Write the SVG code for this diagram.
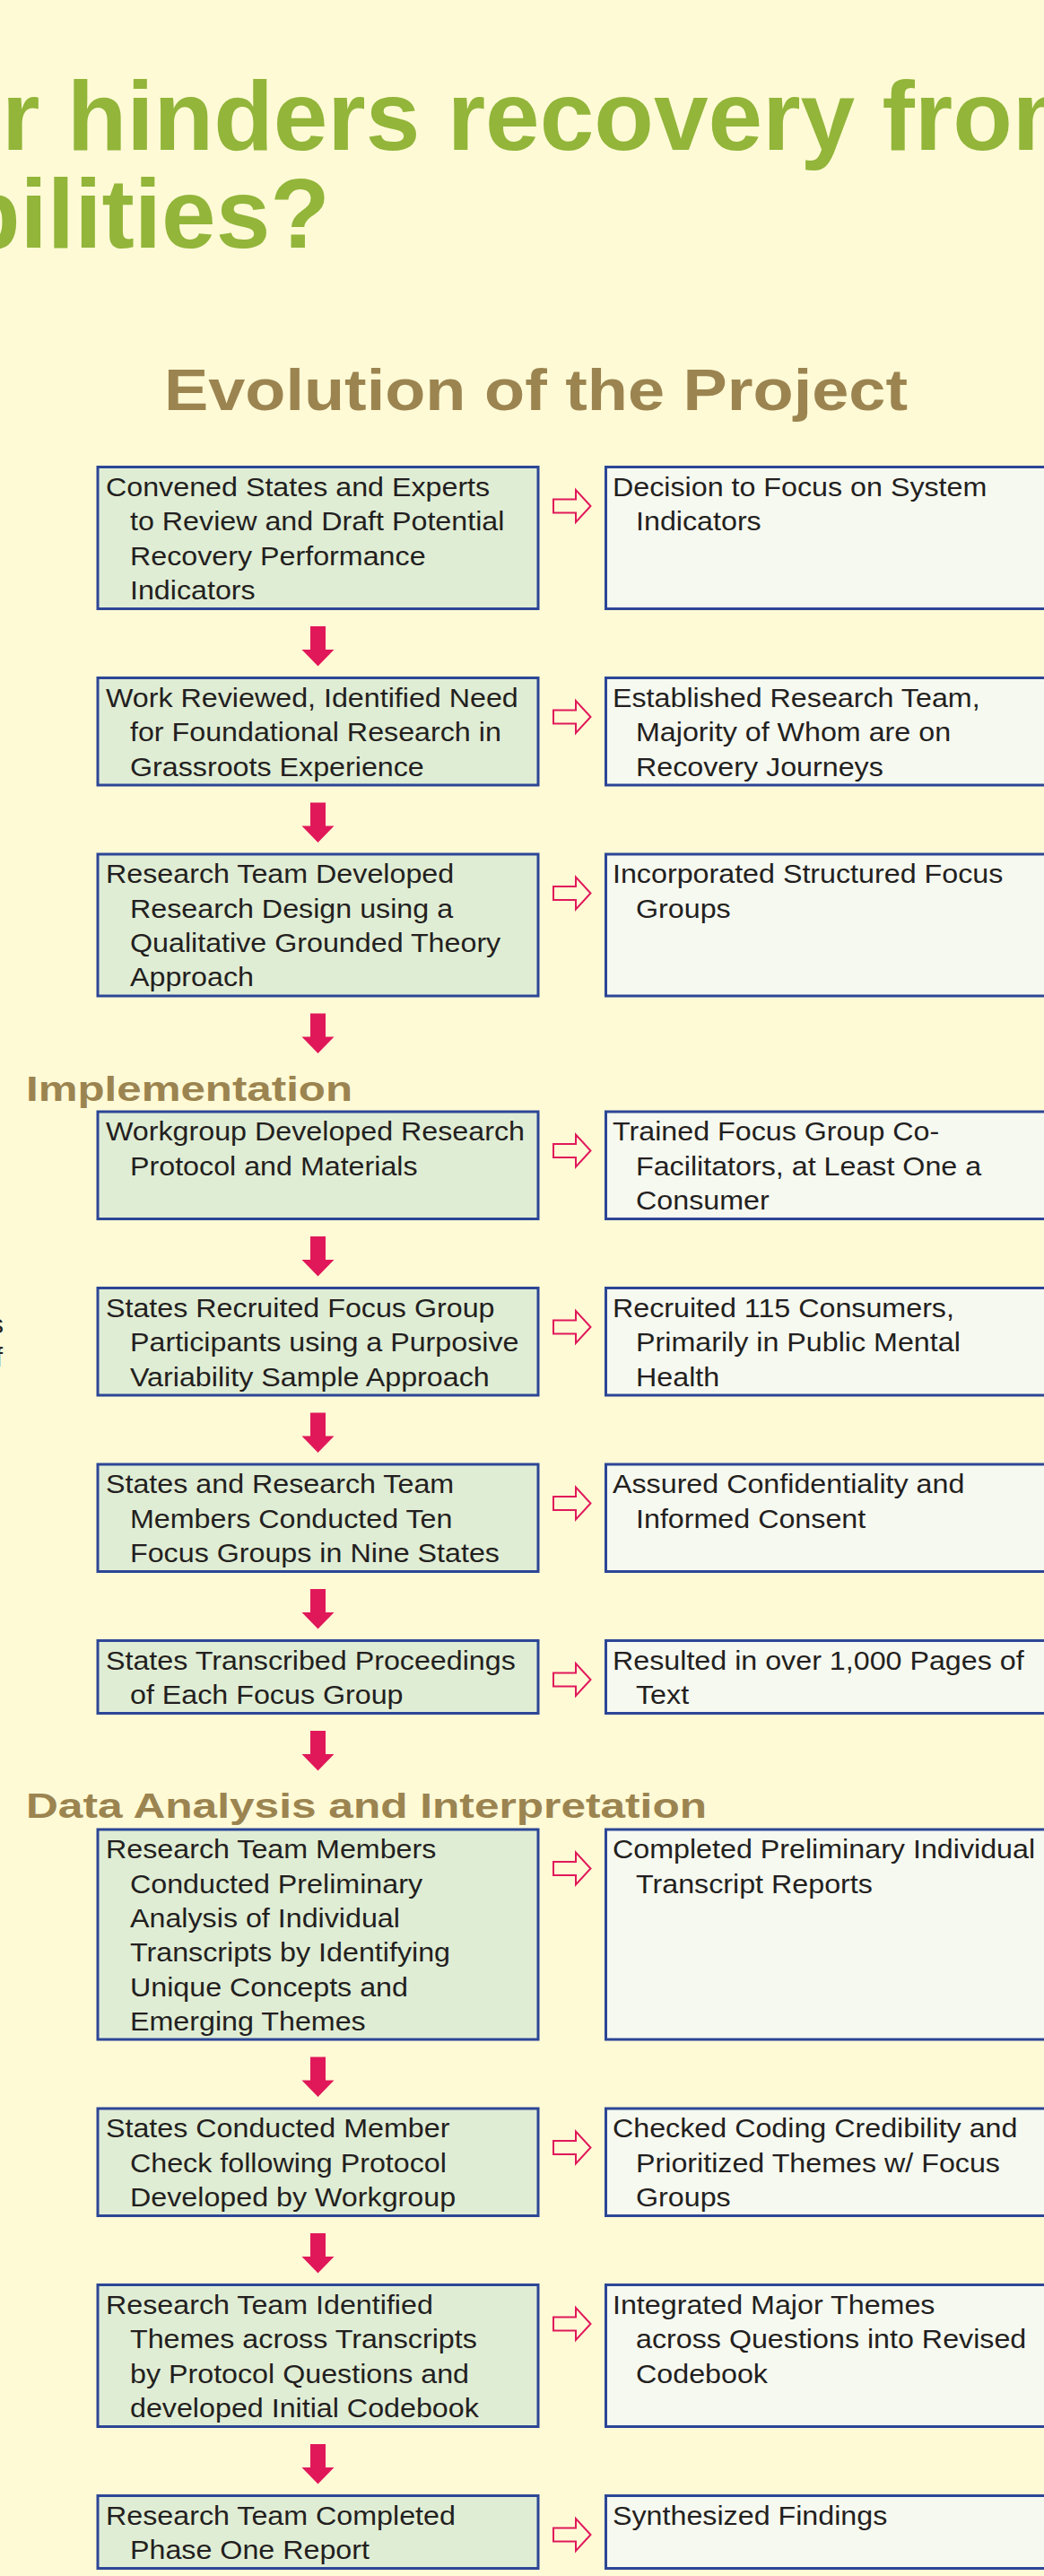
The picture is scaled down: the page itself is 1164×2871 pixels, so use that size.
<svg xmlns="http://www.w3.org/2000/svg" xmlns:xlink="http://www.w3.org/1999/xlink" width="1164" height="2871" viewBox="0 0 1164 2871">
<style>
.bg{fill:#fffad6}
.title{font-family:"Liberation Sans",Arial,sans-serif;font-weight:bold;font-size:109px;fill:#92b53a}
.head{font-family:"Liberation Sans",Arial,sans-serif;font-weight:bold;fill:#9b8450}
.lbox{fill:#e0edd5;stroke:#2c4696;stroke-width:3}
.rbox{fill:#f6f9f0;stroke:#2c4696;stroke-width:3}
.t{font-family:"Liberation Sans",Arial,sans-serif;font-size:30px;fill:#231f20}
.down{fill:#e0185a}
.hollow{fill:none;stroke:#e0185a;stroke-width:2;stroke-linejoin:miter}
</style>
<defs>
<polygon id="darrow" class="down" points="346,0 363,0 363,26 372.5,26 354.5,44.5 336.5,26 346,26"/>
<polygon id="harrow" class="hollow" points="617,-7.5 642,-7.5 642,-18 658.5,0 642,18 642,7.5 617,7.5"/>
</defs>
<rect class="bg" x="0" y="0" width="1164" height="2871"/>

<g id="title">
<text class="title" x="2" y="167">r hinders recovery from</text>
<text class="title" x="-44" y="276">bilities?</text>
</g>
<text class="head" x="183" y="457" font-size="64" textLength="829" lengthAdjust="spacingAndGlyphs">Evolution of the Project</text>
<text class="head" x="29" y="1227" font-size="38" textLength="364" lengthAdjust="spacingAndGlyphs">Implementation</text>
<text class="head" x="29" y="2026" font-size="38" textLength="759" lengthAdjust="spacingAndGlyphs">Data Analysis and Interpretation</text>

<g id="side-fragments" class="t">
<text x="4" y="1485.5" text-anchor="end">s</text>
<text x="3" y="1523" text-anchor="end">f</text>
</g>

<g id="connectors">
<use href="#darrow" xlink:href="#darrow" y="698"/>
<use href="#darrow" xlink:href="#darrow" y="894.5"/>
<use href="#darrow" xlink:href="#darrow" y="1129.5"/>
<use href="#darrow" xlink:href="#darrow" y="1378"/>
<use href="#darrow" xlink:href="#darrow" y="1574.5"/>
<use href="#darrow" xlink:href="#darrow" y="1771"/>
<use href="#darrow" xlink:href="#darrow" y="1929"/>
<use href="#darrow" xlink:href="#darrow" y="2292.5"/>
<use href="#darrow" xlink:href="#darrow" y="2489"/>
<use href="#darrow" xlink:href="#darrow" y="2724"/>
<use href="#harrow" xlink:href="#harrow" y="564"/>
<use href="#harrow" xlink:href="#harrow" y="799"/>
<use href="#harrow" xlink:href="#harrow" y="995.5"/>
<use href="#harrow" xlink:href="#harrow" y="1282.5"/>
<use href="#harrow" xlink:href="#harrow" y="1479"/>
<use href="#harrow" xlink:href="#harrow" y="1675.5"/>
<use href="#harrow" xlink:href="#harrow" y="1872"/>
<use href="#harrow" xlink:href="#harrow" y="2082.5"/>
<use href="#harrow" xlink:href="#harrow" y="2393.5"/>
<use href="#harrow" xlink:href="#harrow" y="2590"/>
<use href="#harrow" xlink:href="#harrow" y="2825"/>
</g>

<!-- Row 1 -->
<g id="step1">
<rect class="lbox" x="109" y="520.5" width="491" height="158"/>
<g class="t" transform="translate(118 0) scale(1.075 1) translate(-118 0)">
<text x="118" y="553">Convened States and Experts</text>
<text x="143.1" y="591.3">to Review and Draft Potential</text>
<text x="143.1" y="629.6">Recovery Performance</text>
<text x="143.1" y="667.9">Indicators</text>
</g>
</g>
<g id="result1">
<rect class="rbox" x="675.5" y="520.5" width="600" height="158"/>
<g class="t" transform="translate(683 0) scale(1.075 1) translate(-683 0)">
<text x="683" y="553">Decision to Focus on System</text>
<text x="707.2" y="591.3">Indicators</text>
</g>
</g>

<!-- Row 2 -->
<g id="step2">
<rect class="lbox" x="109" y="755.5" width="491" height="119.5"/>
<g class="t" transform="translate(118 0) scale(1.075 1) translate(-118 0)">
<text x="118" y="788">Work Reviewed, Identified Need</text>
<text x="143.1" y="826.3">for Foundational Research in</text>
<text x="143.1" y="864.6">Grassroots Experience</text>
</g>
</g>
<g id="result2">
<rect class="rbox" x="675.5" y="755.5" width="600" height="119.5"/>
<g class="t" transform="translate(683 0) scale(1.075 1) translate(-683 0)">
<text x="683" y="788">Established Research Team,</text>
<text x="707.2" y="826.3">Majority of Whom are on</text>
<text x="707.2" y="864.6">Recovery Journeys</text>
</g>
</g>

<!-- Row 3 -->
<g id="step3">
<rect class="lbox" x="109" y="952" width="491" height="158"/>
<g class="t" transform="translate(118 0) scale(1.075 1) translate(-118 0)">
<text x="118" y="984.5">Research Team Developed</text>
<text x="143.1" y="1022.8">Research Design using a</text>
<text x="143.1" y="1061.1">Qualitative Grounded Theory</text>
<text x="143.1" y="1099.4">Approach</text>
</g>
</g>
<g id="result3">
<rect class="rbox" x="675.5" y="952" width="600" height="158"/>
<g class="t" transform="translate(683 0) scale(1.075 1) translate(-683 0)">
<text x="683" y="984.5">Incorporated Structured Focus</text>
<text x="707.2" y="1022.8">Groups</text>
</g>
</g>

<!-- Row 4 -->
<g id="step4">
<rect class="lbox" x="109" y="1239" width="491" height="119.5"/>
<g class="t" transform="translate(118 0) scale(1.075 1) translate(-118 0)">
<text x="118" y="1271.5">Workgroup Developed Research</text>
<text x="143.1" y="1309.8">Protocol and Materials</text>
</g>
</g>
<g id="result4">
<rect class="rbox" x="675.5" y="1239" width="600" height="119.5"/>
<g class="t" transform="translate(683 0) scale(1.075 1) translate(-683 0)">
<text x="683" y="1271.5">Trained Focus Group Co-</text>
<text x="707.2" y="1309.8">Facilitators, at Least One a</text>
<text x="707.2" y="1348.1">Consumer</text>
</g>
</g>

<!-- Row 5 -->
<g id="step5">
<rect class="lbox" x="109" y="1435.5" width="491" height="119.5"/>
<g class="t" transform="translate(118 0) scale(1.075 1) translate(-118 0)">
<text x="118" y="1468">States Recruited Focus Group</text>
<text x="143.1" y="1506.3">Participants using a Purposive</text>
<text x="143.1" y="1544.6">Variability Sample Approach</text>
</g>
</g>
<g id="result5">
<rect class="rbox" x="675.5" y="1435.5" width="600" height="119.5"/>
<g class="t" transform="translate(683 0) scale(1.075 1) translate(-683 0)">
<text x="683" y="1468">Recruited 115 Consumers,</text>
<text x="707.2" y="1506.3">Primarily in Public Mental</text>
<text x="707.2" y="1544.6">Health</text>
</g>
</g>

<!-- Row 6 -->
<g id="step6">
<rect class="lbox" x="109" y="1632" width="491" height="119.5"/>
<g class="t" transform="translate(118 0) scale(1.075 1) translate(-118 0)">
<text x="118" y="1664.5">States and Research Team</text>
<text x="143.1" y="1702.8">Members Conducted Ten</text>
<text x="143.1" y="1741.1">Focus Groups in Nine States</text>
</g>
</g>
<g id="result6">
<rect class="rbox" x="675.5" y="1632" width="600" height="119.5"/>
<g class="t" transform="translate(683 0) scale(1.075 1) translate(-683 0)">
<text x="683" y="1664.5">Assured Confidentiality and</text>
<text x="707.2" y="1702.8">Informed Consent</text>
</g>
</g>

<!-- Row 7 -->
<g id="step7">
<rect class="lbox" x="109" y="1828.5" width="491" height="81"/>
<g class="t" transform="translate(118 0) scale(1.075 1) translate(-118 0)">
<text x="118" y="1861">States Transcribed Proceedings</text>
<text x="143.1" y="1899.3">of Each Focus Group</text>
</g>
</g>
<g id="result7">
<rect class="rbox" x="675.5" y="1828.5" width="600" height="81"/>
<g class="t" transform="translate(683 0) scale(1.075 1) translate(-683 0)">
<text x="683" y="1861">Resulted in over 1,000 Pages of</text>
<text x="707.2" y="1899.3">Text</text>
</g>
</g>

<!-- Row 8 -->
<g id="step8">
<rect class="lbox" x="109" y="2039" width="491" height="234"/>
<g class="t" transform="translate(118 0) scale(1.075 1) translate(-118 0)">
<text x="118" y="2071.5">Research Team Members</text>
<text x="143.1" y="2109.8">Conducted Preliminary</text>
<text x="143.1" y="2148.1">Analysis of Individual</text>
<text x="143.1" y="2186.4">Transcripts by Identifying</text>
<text x="143.1" y="2224.7">Unique Concepts and</text>
<text x="143.1" y="2263">Emerging Themes</text>
</g>
</g>
<g id="result8">
<rect class="rbox" x="675.5" y="2039" width="600" height="234"/>
<g class="t" transform="translate(683 0) scale(1.075 1) translate(-683 0)">
<text x="683" y="2071.5">Completed Preliminary Individual</text>
<text x="707.2" y="2109.8">Transcript Reports</text>
</g>
</g>

<!-- Row 9 -->
<g id="step9">
<rect class="lbox" x="109" y="2350" width="491" height="119.5"/>
<g class="t" transform="translate(118 0) scale(1.075 1) translate(-118 0)">
<text x="118" y="2382.5">States Conducted Member</text>
<text x="143.1" y="2420.8">Check following Protocol</text>
<text x="143.1" y="2459.1">Developed by Workgroup</text>
</g>
</g>
<g id="result9">
<rect class="rbox" x="675.5" y="2350" width="600" height="119.5"/>
<g class="t" transform="translate(683 0) scale(1.075 1) translate(-683 0)">
<text x="683" y="2382.5">Checked Coding Credibility and</text>
<text x="707.2" y="2420.8">Prioritized Themes w/ Focus</text>
<text x="707.2" y="2459.1">Groups</text>
</g>
</g>

<!-- Row 10 -->
<g id="step10">
<rect class="lbox" x="109" y="2546.5" width="491" height="158"/>
<g class="t" transform="translate(118 0) scale(1.075 1) translate(-118 0)">
<text x="118" y="2579">Research Team Identified</text>
<text x="143.1" y="2617.3">Themes across Transcripts</text>
<text x="143.1" y="2655.6">by Protocol Questions and</text>
<text x="143.1" y="2693.9">developed Initial Codebook</text>
</g>
</g>
<g id="result10">
<rect class="rbox" x="675.5" y="2546.5" width="600" height="158"/>
<g class="t" transform="translate(683 0) scale(1.075 1) translate(-683 0)">
<text x="683" y="2579">Integrated Major Themes</text>
<text x="707.2" y="2617.3">across Questions into Revised</text>
<text x="707.2" y="2655.6">Codebook</text>
</g>
</g>

<!-- Row 11 -->
<g id="step11">
<rect class="lbox" x="109" y="2781.5" width="491" height="81"/>
<g class="t" transform="translate(118 0) scale(1.075 1) translate(-118 0)">
<text x="118" y="2814">Research Team Completed</text>
<text x="143.1" y="2852.3">Phase One Report</text>
</g>
</g>
<g id="result11">
<rect class="rbox" x="675.5" y="2781.5" width="600" height="81"/>
<g class="t" transform="translate(683 0) scale(1.075 1) translate(-683 0)">
<text x="683" y="2814">Synthesized Findings</text>
</g>
</g>
</svg>
